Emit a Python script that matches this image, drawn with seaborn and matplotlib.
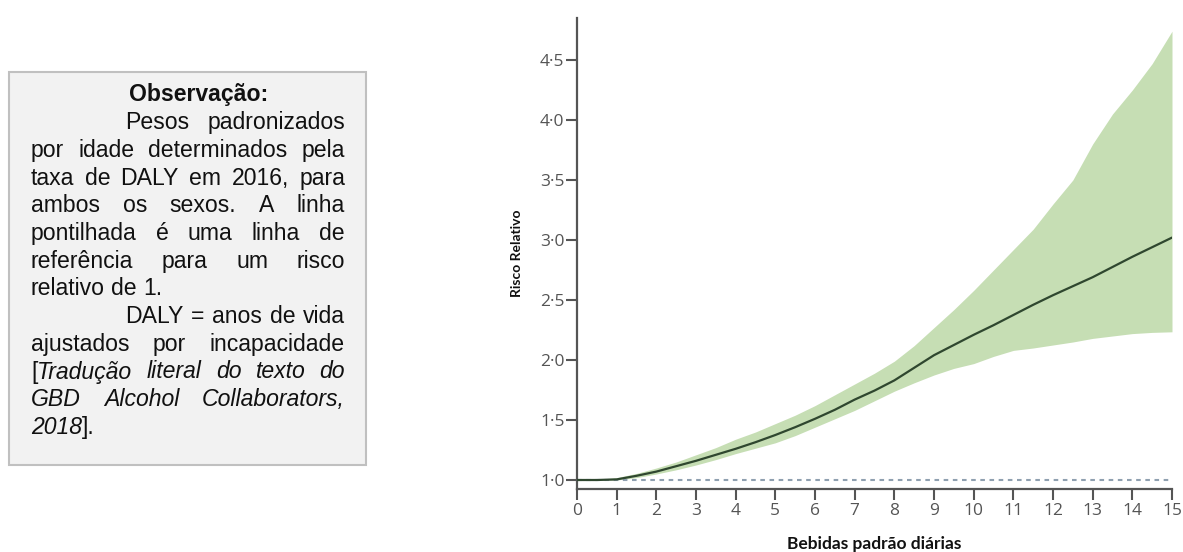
import matplotlib
matplotlib.use("Agg")
import matplotlib.pyplot as plt
import seaborn as sns
import pandas as pd
from matplotlib.patches import Rectangle

# ---- data ----
drinks = [0, 0.5, 1, 1.5, 2, 2.5, 3, 3.5, 4, 4.5, 5, 5.5, 6, 6.5, 7, 7.5, 8, 8.5, 9, 9.5,
          10, 10.5, 11, 11.5, 12, 12.5, 13, 13.5, 14, 14.5, 15]
rr_mean = [1.0, 1.0, 1.005, 1.035, 1.07, 1.115, 1.16, 1.21, 1.26, 1.315, 1.375, 1.44, 1.51, 1.585,
           1.67, 1.745, 1.83, 1.935, 2.04, 2.125, 2.21, 2.29, 2.375, 2.46, 2.54, 2.615, 2.69,
           2.775, 2.86, 2.94, 3.02]
rr_upper = [1.0, 1.005, 1.02, 1.055, 1.10, 1.15, 1.21, 1.27, 1.34, 1.40, 1.47, 1.54, 1.62, 1.71,
            1.80, 1.89, 1.99, 2.12, 2.27, 2.42, 2.58, 2.75, 2.92, 3.09, 3.30, 3.50, 3.80, 4.05,
            4.25, 4.47, 4.74]
rr_lower = [1.0, 1.0, 1.0, 1.02, 1.05, 1.085, 1.125, 1.17, 1.22, 1.265, 1.31, 1.37, 1.44, 1.51,
            1.58, 1.66, 1.74, 1.81, 1.875, 1.93, 1.97, 2.03, 2.08, 2.10, 2.125, 2.15, 2.18, 2.20,
            2.22, 2.23, 2.235]
y_ticks = [1.0, 1.5, 2.0, 2.5, 3.0, 3.5, 4.0, 4.5]
y_tick_labels = ["1·0", "1·5", "2·0", "2·5", "3·0", "3·5", "4·0", "4·5"]
x_ticks = list(range(16))
x_label = "Bebidas padrão diárias"
y_label = "Risco Relativo"

note_lines = [
    ("center", [[("Observação:", "bold")]]),
    ("indent", [[("Pesos", "n")], [("padronizados", "n")]]),
    ("justify", [[("por", "n")], [("idade", "n")], [("determinados", "n")], [("pela", "n")]]),
    ("justify", [[("taxa", "n")], [("de", "n")], [("DALY", "n")], [("em", "n")], [("2016,", "n")], [("para", "n")]]),
    ("justify", [[("ambos", "n")], [("os", "n")], [("sexos.", "n")], [("A", "n")], [("linha", "n")]]),
    ("justify", [[("pontilhada", "n")], [("é", "n")], [("uma", "n")], [("linha", "n")], [("de", "n")]]),
    ("justify", [[("referência", "n")], [("para", "n")], [("um", "n")], [("risco", "n")]]),
    ("left", [[("relativo", "n")], [("de", "n")], [("1.", "n")]]),
    ("indent", [[("DALY", "n")], [("=", "n")], [("anos", "n")], [("de", "n")], [("vida", "n")]]),
    ("justify", [[("ajustados", "n")], [("por", "n")], [("incapacidade", "n")]]),
    ("justify", [[("[", "n"), ("Tradução", "i")], [("literal", "i")], [("do", "i")], [("texto", "i")], [("do", "i")]]),
    ("justify", [[("GBD", "i")], [("Alcohol", "i")], [("Collaborators,", "i")]]),
    ("left", [[("2018", "i"), ("].", "n")]]),
]

W, H = 1183, 552
sns.set_theme(style="white")
plt.rcParams["font.family"] = ["Open Sans", "DejaVu Sans"]

fig = plt.figure(figsize=(W / 100, H / 100), dpi=100)
ax = fig.add_axes([577 / W, 1 - 489 / H, (1172 - 577) / W, (489 - 18) / H])

df = pd.DataFrame({"x": drinks, "mean": rr_mean, "lo": rr_lower, "hi": rr_upper})
ax.fill_between(df["x"], df["lo"], df["hi"], color="#c6deb4", linewidth=0, zorder=1)
ax.axhline(1.0, color="#8fa0b0", linestyle=(0, (2.2, 2.2)), linewidth=1.5, zorder=2)
sns.lineplot(data=df, x="x", y="mean", ax=ax, color="#2f472f", linewidth=1.6, zorder=3)

ax.set_xlim(0, 15)
ax.set_ylim(0.925, 4.85)
ax.set_yticks(y_ticks)
ax.set_yticklabels(y_tick_labels)
ax.set_xticks(x_ticks)
ax.set_xticklabels([str(v) for v in x_ticks])
for s in ["top", "right"]:
    ax.spines[s].set_visible(False)
for s in ["left", "bottom"]:
    ax.spines[s].set_color("#555555")
    ax.spines[s].set_linewidth(1.6)
ax.tick_params(axis="both", direction="out", length=8, width=1.5, color="#555555",
               labelcolor="#555555", labelsize=12.5, left=True, bottom=True)
ax.tick_params(axis="x", pad=2)
ax.tick_params(axis="y", pad=1)
ax.set_xlabel(x_label, fontsize=12.5, fontweight="bold", color="#111111", labelpad=12,
              family=["Lato", "DejaVu Sans"])
ax.set_ylabel(y_label, fontsize=10, fontweight="bold", color="#111111", labelpad=12,
              family=["Lato", "DejaVu Sans"])

# ---- note box (pixel coordinates overlay) ----
ov = fig.add_axes([0, 0, 1, 1], zorder=-1)
ov.set_xlim(0, W)
ov.set_ylim(H, 0)
ov.axis("off")
ov.add_patch(Rectangle((9, 72), 357, 393, facecolor="#f2f2f2", edgecolor="#c0c0c0", linewidth=1.5))

fs = 16.6
renderer = fig.canvas.get_renderer()

def style_kw(st):
    kw = dict(fontsize=fs, color="#111111", family=["Liberation Sans", "DejaVu Sans"])
    if st == "bold":
        kw["fontweight"] = "bold"
    if st == "i":
        kw["fontstyle"] = "italic"
    return kw

def measure(txt, st):
    t = ov.text(0, 0, txt, **style_kw(st))
    w = t.get_window_extent(renderer).width
    t.remove()
    return w

space_w = measure("a a", "n") - measure("aa", "n")
x_left, x_right, x_indent = 31, 345, 125
y0, dy = 101.5, 27.7

for i, (mode, words) in enumerate(note_lines):
    yb = y0 + i * dy
    widths = [sum(measure(p, st) for p, st in w) for w in words]
    if mode == "center":
        total = sum(widths)
        start = 199 - total / 2
        gap = 0
    else:
        start = x_indent if mode == "indent" else x_left
        if mode == "left" or len(words) == 1:
            gap = space_w
        else:
            gap = (x_right - start - sum(widths)) / (len(words) - 1)
    x = start
    for w, wd in zip(words, widths):
        xp = x
        for p, st in w:
            ov.text(xp, yb, p, ha="left", va="baseline", **style_kw(st))
            xp += measure(p, st)
        x += wd + gap

fig.savefig("out.png", dpi=100)
